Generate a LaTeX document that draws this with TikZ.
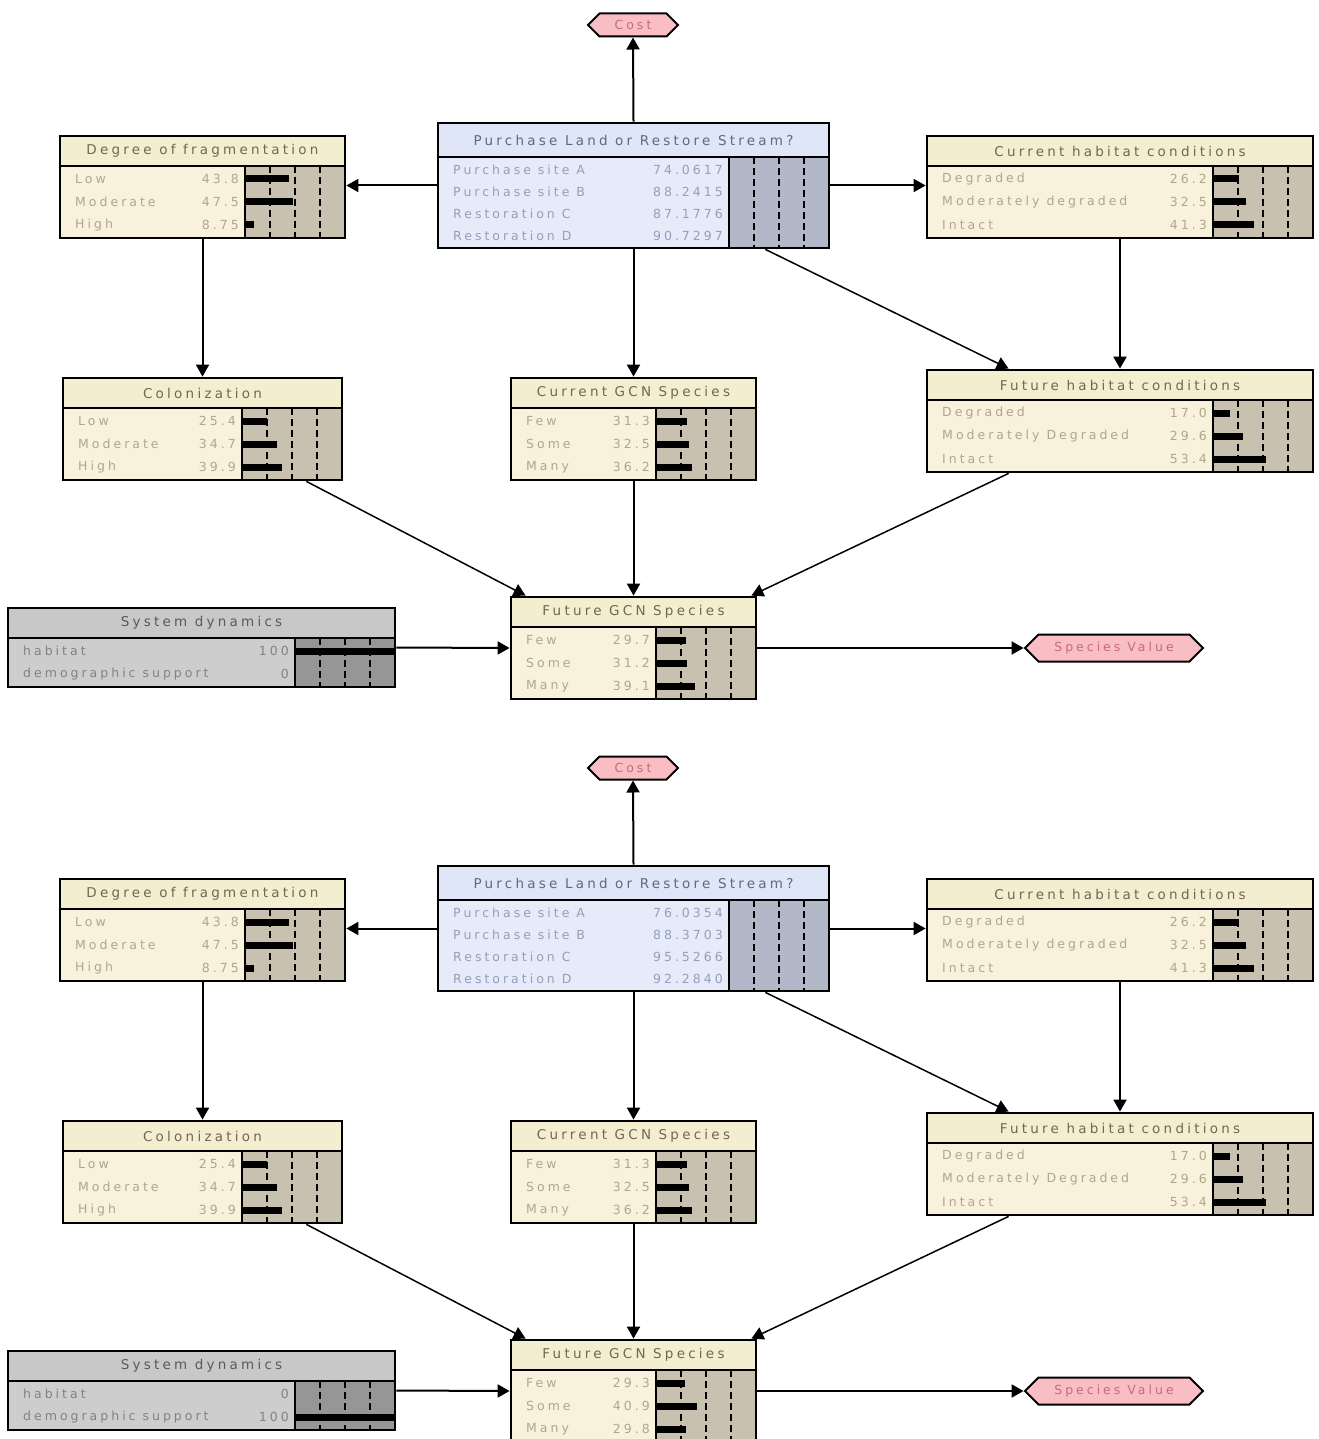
\documentclass[tikz,border=0pt]{standalone}
\usepackage{fontspec}
\newfontfamily\netfont[LetterSpace=24]{DejaVu Sans}
\usetikzlibrary{arrows.meta,shapes.symbols}

\definecolor{cr-title}{RGB}{244,238,208}
\definecolor{cr-body}{RGB}{248,242,220}
\definecolor{cr-bar}{RGB}{201,193,176}
\definecolor{cr-text}{RGB}{176,166,138}
\definecolor{cr-head}{RGB}{112,104,84}
\definecolor{bl-title}{RGB}{222,230,248}
\definecolor{bl-body}{RGB}{230,235,250}
\definecolor{bl-bar}{RGB}{178,184,200}
\definecolor{bl-text}{RGB}{150,158,186}
\definecolor{bl-head}{RGB}{96,104,130}
\definecolor{gr-title}{RGB}{200,200,200}
\definecolor{gr-body}{RGB}{205,205,205}
\definecolor{gr-bar}{RGB}{150,150,150}
\definecolor{gr-text}{RGB}{130,130,130}
\definecolor{gr-head}{RGB}{90,90,90}
\definecolor{util-fill}{RGB}{248,190,196}
\definecolor{util-text}{RGB}{196,108,122}

\tikzset{
  rowtext/.style={font=\netfont\fontsize{12.5}{15}\selectfont, inner sep=0},
  headtext/.style={font=\netfont\fontsize{13.5}{16}\selectfont, inner sep=0},
  gridline/.style={line width=2pt, dash pattern=on 7pt off 4pt},
  link/.style={->, line width=2pt},
  util/.style={signal, signal to=east and west, draw, line width=2pt, fill=util-fill, text=util-text,
    font=\netfont\fontsize{12.5}{15}\selectfont, inner sep=0, minimum height=23},
}

% belief box: name, colour set, x, y (top left), width, title height, row height, title, rows label/value/bar
\newcommand{\bnode}[9]{%
  \begin{scope}[shift={(#3,#4)}]
    \edef\rowlist{#9}
    \foreach \r [count=\n] in \rowlist {\xdef\nrows{\n}}
    \pgfmathsetmacro\bh{#6+\nrows*#7+3}
    \pgfmathsetmacro\bx{#5-100}
    \fill[#2-body] (0,0) rectangle (#5,\bh);
    \fill[#2-title] (0,0) rectangle (#5,#6);
    \fill[#2-bar] (\bx,#6) rectangle (#5,\bh);
    \foreach \q in {25,50,75}
      \draw[gridline] (\bx+\q,#6) -- (\bx+\q,\bh);
    \foreach \lab/\val/\blen [count=\i] in \rowlist {
      \pgfmathsetmacro\yc{#6+#7*(\i-1)+#7/2+1.5}
      \fill (\bx,\yc-3.5) rectangle ++(\blen,7);
      \node[rowtext, text=#2-text, anchor=west] at (15,\yc) {\lab};
      \node[rowtext, text=#2-text, anchor=east] at (\bx-6,\yc) {\val};
    }
    \node[headtext, text=#2-head] at (#5/2,#6/2) {#8};
    \draw[line width=2.5pt] (0,#6) -- (#5,#6) (\bx,#6) -- (\bx,\bh);
    \node[draw, line width=2.8pt, inner sep=0, minimum width=#5, minimum height=\bh] (#1) at (#5/2,\bh/2) {};
  \end{scope}}

\begin{document}
\begin{tikzpicture}[x=1pt, y=-1pt, >={Triangle[length=12pt,width=13pt]}]
	\useasboundingbox[fill=white] (0,0) rectangle (1318,1439);
	\foreach \dy/\buyrows/\sysrows/\gcnrows in {0/{Purchase site A/74.0617/0, Purchase site B/88.2415/0, Restoration C/87.1776/0, Restoration D/90.7297/0}/{habitat/100/100, demographic support/0/0}/{Few/29.7/29.7, Some/31.2/31.2, Many/39.1/39.1}, 743/{Purchase site A/76.0354/0, Purchase site B/88.3703/0, Restoration C/95.5266/0, Restoration D/92.2840/0}/{habitat/0/0, demographic support/100/100}/{Few/29.3/29.3, Some/40.9/40.9, Many/29.8/29.8}} {
		\node[util, minimum width=90] (cost\dy) at (633,25+\dy) {Cost};
		\bnode{frag\dy}{cr}{60}{136+\dy}{285}{30}{23}{Degree of fragmentation}{Low/43.8/43.8, Moderate/47.5/47.5, High/8.75/8.75}
		\bnode{buy\dy}{bl}{438}{123+\dy}{391}{34}{22}{Purchase Land or Restore Stream?}{\buyrows}
		\bnode{curhab\dy}{cr}{927}{136+\dy}{386}{30}{23}{Current habitat conditions}{Degraded/26.2/26.2, Moderately degraded/32.5/32.5, Intact/41.3/41.3}
		\bnode{colon\dy}{cr}{63}{378+\dy}{279}{30}{23}{Colonization}{Low/25.4/25.4, Moderate/34.7/34.7, High/39.9/39.9}
		\bnode{curgcn\dy}{cr}{511}{378+\dy}{245}{30}{23}{Current GCN Species}{Few/31.3/31.3, Some/32.5/32.5, Many/36.2/36.2}
		\bnode{futhab\dy}{cr}{927}{370+\dy}{386}{30}{23}{Future habitat conditions}{Degraded/17.0/17.0, Moderately Degraded/29.6/29.6, Intact/53.4/53.4}
		\bnode{sysdyn\dy}{gr}{8}{608+\dy}{387}{30}{23}{System dynamics}{\sysrows}
		\bnode{futgcn\dy}{cr}{511}{597+\dy}{245}{30}{23}{Future GCN Species}{\gcnrows}
		\node[util, minimum width=178, minimum height=27] (spval\dy) at (1114,648+\dy) {Species Value};
		\draw[link] (buy\dy.north) -- (cost\dy.south);
		\draw[link] (buy\dy.west) -- (buy\dy.west -| frag\dy.east);
		\draw[link] (buy\dy.east) -- (buy\dy.east -| curhab\dy.west);
		\draw[link] (buy\dy.south) -- (curgcn\dy.north);
		\draw[link, line width=1.5pt] ([xshift=-65]buy\dy.south east) -- ([xshift=83]futhab\dy.north west);
		\draw[link] (frag\dy.south) -- (colon\dy.north);
		\draw[link] (curhab\dy.south) -- (futhab\dy.north);
		\draw[link, line width=1.5pt] ([xshift=-37]colon\dy.south east) -- ([xshift=16]futgcn\dy.north west);
		\draw[link] (curgcn\dy.south) -- (futgcn\dy.north);
		\draw[link, line width=1.5pt] ([xshift=83]futhab\dy.south west) -- ([xshift=-6]futgcn\dy.north east);
		\draw[link] (sysdyn\dy.east) -- (futgcn\dy.west);
		\draw[link] (futgcn\dy.east) -- (spval\dy.west);
	}
\end{tikzpicture}
\end{document}
